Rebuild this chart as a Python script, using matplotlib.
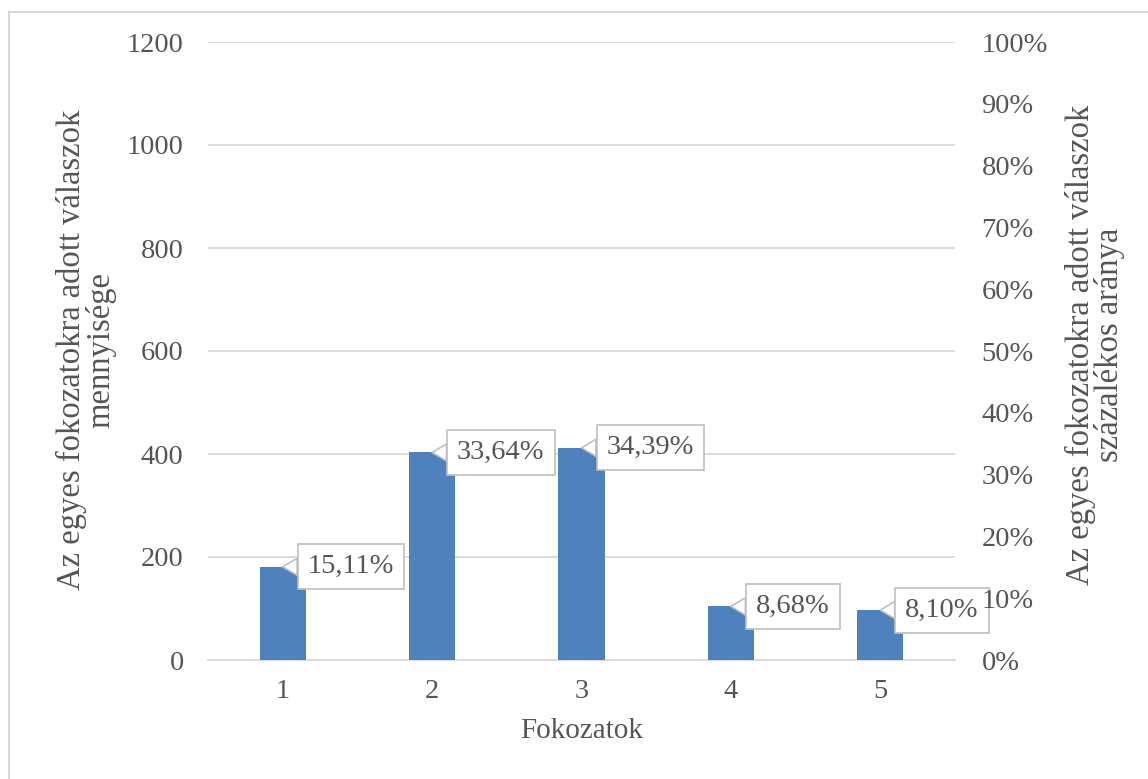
import matplotlib.pyplot as plt
from matplotlib.patches import Rectangle
from matplotlib.ticker import FuncFormatter

# Data
categories = ['1', '2', '3', '4', '5']
counts = [181, 403, 412, 104, 97]
percent_labels = ['15,11%', '33,64%', '34,39%', '8,68%', '8,10%']

left_ticks = [0, 200, 400, 600, 800, 1000, 1200]
right_ticks = [0, 0.1, 0.2, 0.3, 0.4, 0.5, 0.6, 0.7, 0.8, 0.9, 1.0]

BAR_COLOR = '#4f81bd'
TEXT_COLOR = '#555555'
GRID_COLOR = '#d9d9d9'
FS = 20.5
TITLE_FS = 23.5

plt.rcParams['font.family'] = ['Liberation Serif', 'DejaVu Serif']

fig = plt.figure(figsize=(11.48, 7.79), dpi=100)
ax = fig.add_axes([208 / 1148, 1 - 660 / 779, (955 - 208) / 1148, (660 - 42) / 779])

x = list(range(1, len(categories) + 1))
ax.bar(x, counts, width=0.31, color=BAR_COLOR, zorder=3)

ax.set_xlim(0.5, 5.5)
ax.set_ylim(0, 1200)
ax.set_yticks(left_ticks)
ax.set_xticks(x)
ax.set_xticklabels(categories)
ax.grid(axis='y', color=GRID_COLOR, linewidth=1.3, zorder=0)
for side in ['top', 'right', 'left']:
    ax.spines[side].set_visible(False)
ax.spines['bottom'].set_color(GRID_COLOR)
ax.spines['bottom'].set_linewidth(1.3)
ax.tick_params(axis='both', length=0, labelsize=FS, labelcolor=TEXT_COLOR)
ax.tick_params(axis='y', pad=17.5)
ax.tick_params(axis='x', pad=14)

ax2 = ax.twinx()
ax2.set_ylim(0, 1.0)
ax2.set_yticks(right_ticks)
ax2.yaxis.set_major_formatter(FuncFormatter(lambda v, p: f'{v * 100:.0f}%'))
for side in ['top', 'right', 'left', 'bottom']:
    ax2.spines[side].set_visible(False)
ax2.tick_params(axis='y', length=0, labelsize=FS, labelcolor=TEXT_COLOR, pad=19)

ax.set_xlabel('Fokozatok', fontsize=21, color=TEXT_COLOR, labelpad=10)
fig.text(86 / 1148, 1 - 350 / 779, 'Az egyes fokozatokra adott válaszok\nmennyisége',
         rotation=90, ha='center', va='center', fontsize=TITLE_FS, color=TEXT_COLOR,
         multialignment='center', linespacing=0.9)
fig.text(1095 / 1148, 1 - 345 / 779, 'Az egyes fokozatokra adott válaszok\nszázalékos aránya',
         rotation=90, ha='center', va='center', fontsize=TITLE_FS, color=TEXT_COLOR,
         multialignment='center', linespacing=0.9)

# callout labels
for xi, c, lab in zip(x, counts, percent_labels):
    ax.annotate(lab, xy=(xi, c), xytext=(18, 0), textcoords='offset points',
                ha='left', va='center', fontsize=FS, color=TEXT_COLOR, zorder=5,
                bbox=dict(boxstyle='square,pad=0.35', fc='white', ec='#bfbfbf', lw=1.2),
                arrowprops=dict(arrowstyle='wedge,tail_width=0.6,shrink_factor=0.5',
                                fc='white', ec='#bfbfbf', lw=1.2, shrinkA=0, shrinkB=0))

# outer chart border
fig.patches.append(Rectangle((9 / 1148, -0.05), 1.1, 1 - 12 / 779 + 0.05,
                             transform=fig.transFigure, fill=False,
                             ec='#d9d9d9', lw=1.5))

fig.savefig('out.png', dpi=100)
